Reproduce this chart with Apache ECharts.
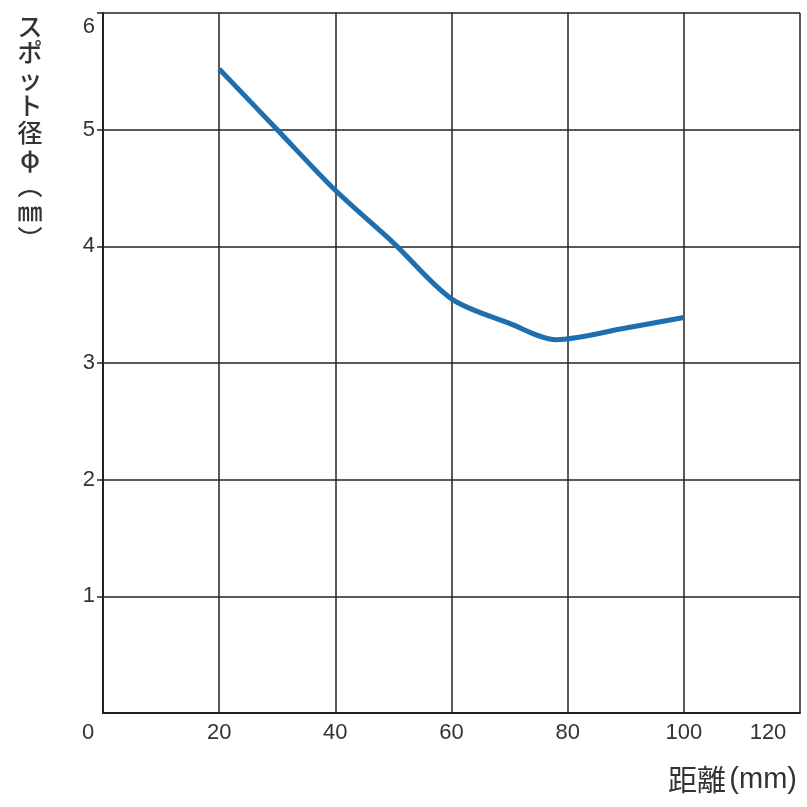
<!DOCTYPE html>
<html>
<head>
<meta charset="utf-8">
<script src="https://cdn.jsdelivr.net/npm/echarts@6/dist/echarts.min.js"></script>
<style>
  html, body { margin: 0; padding: 0; background: #fff; }
  #chart { width: 807px; height: 807px; }
</style>
</head>
<body>
<div id="chart"></div>
<script>
// 距離 (mm)
const distance = [20, 30, 40, 50, 60, 70, 78, 90, 100];
// スポット径 (mm)
const spot = [5.52, 5.0, 4.48, 4.03, 3.55, 3.34, 3.2, 3.3, 3.39];
const xTicks = [0, 20, 40, 60, 80, 100, 120];
const yTicks = [0, 1, 2, 3, 4, 5, 6];

const yName = 'スポット径φ︵㎜︶'.split('').join('\n');

const myChart = echarts.init(document.getElementById('chart'));
const option = {
  animation: false,
  grid: { left: 103, right: 7, top: 13, bottom: 94, containLabel: false, outerBoundsMode: 'none' },
  xAxis: {
    type: 'value',
    min: xTicks[0], max: xTicks[xTicks.length - 1], interval: 20,
    name: '{a|距離} {b|(mm)}',
    nameLocation: 'end',
    nameGap: 0,
    nameMoveOverlap: false,
    nameTextStyle: {
      color: '#333',
      align: 'right', verticalAlign: 'top', padding: [52, 3, 0, 0],
      rich: {
        a: { fontFamily: 'Noto Sans CJK JP', fontSize: 29, color: '#333' },
        b: { fontFamily: 'Liberation Sans', fontSize: 29, color: '#333' }
      }
    },
    axisLine: { lineStyle: { color: '#222', width: 2 } },
    axisTick: { show: false },
    axisLabel: {
      margin: 9, fontSize: 22, color: '#333', fontFamily: 'Liberation Sans',
      formatter: v => (v === 0 ? '{z|0}' : v === 120 ? '{e|120}' : String(v)),
      rich: {
        z: { fontSize: 22, color: '#333', fontFamily: 'Liberation Sans', padding: [0, 30, 0, 0] },
        e: { fontSize: 22, color: '#333', fontFamily: 'Liberation Sans', padding: [0, 64, 0, 0] }
      }
    },
    splitLine: { show: true, lineStyle: { color: '#222', width: 1.5 } }
  },
  yAxis: {
    type: 'value',
    min: yTicks[0], max: yTicks[yTicks.length - 1], interval: 1,
    name: yName,
    nameLocation: 'end',
    nameGap: 0,
    nameMoveOverlap: false,
    nameTextStyle: {
      fontFamily: 'Noto Sans CJK JP', fontSize: 25, color: '#333', lineHeight: 26.5,
      fontWeight: 500,
      align: 'center', verticalAlign: 'top', padding: [0, 146, 0, 0]
    },
    axisLine: { show: true, lineStyle: { color: '#222', width: 2 } },
    axisTick: { show: true, length: 6, lineStyle: { color: '#222', width: 1.5 } },
    axisLabel: {
      margin: 8, fontSize: 22, color: '#333', fontFamily: 'Liberation Sans',
      showMinLabel: false,
      formatter: v => (v === 6 ? '{t|6}' : String(v)),
      rich: { t: { fontSize: 22, color: '#333', fontFamily: 'Liberation Sans', padding: [28, 0, 0, 0] } }
    },
    splitLine: { show: true, lineStyle: { color: '#222', width: 1.5 } }
  },
  series: [{
    type: 'line',
    data: distance.map((d, i) => [d, spot[i]]),
    smooth: 0.3,
    showSymbol: false,
    lineStyle: { color: '#1f6fae', width: 5 }
  }]
};
myChart.setOption(option);
</script>
</body>
</html>
